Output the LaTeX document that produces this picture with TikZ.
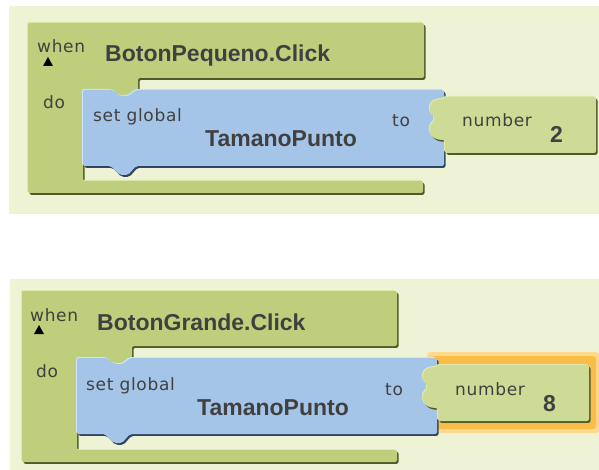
\documentclass[tikz,border=0pt]{standalone}
\usepackage{fontspec}
\setmainfont{DejaVu Sans}
\newfontfamily\labelfont[LetterSpace=4]{DejaVu Sans}
\newfontfamily\titlefont{Liberation Sans}
\usepackage{tikz}

\definecolor{panelbg}{RGB}{238,243,213}
\definecolor{evgreen}{RGB}{190,206,124}
\definecolor{evgreendark}{RGB}{78,90,40}
\definecolor{evgreenlight}{RGB}{222,234,172}
\definecolor{numgreen}{RGB}{205,219,150}
\definecolor{setblue}{RGB}{165,197,232}
\definecolor{setbluedark}{RGB}{48,68,100}
\definecolor{setbluelight}{RGB}{205,228,250}
\definecolor{txtgray}{RGB}{64,64,64}
\definecolor{glowin}{RGB}{250,190,72}
\definecolor{glowout}{RGB}{252,218,140}

\tikzset{
  evblock/.style={fill=evgreen, rounded corners=2,
    preaction={fill=evgreendark, transform canvas={xshift=1.5pt,yshift=-1.8pt}},
    preaction={fill=evgreenlight, transform canvas={xshift=-1pt,yshift=1pt}}},
  numblock/.style={fill=numgreen, rounded corners=2,
    preaction={fill=evgreendark, transform canvas={xshift=1.5pt,yshift=-1.8pt}},
    preaction={fill=evgreenlight, transform canvas={xshift=-1pt,yshift=1pt}}},
  setblock/.style={fill=setblue, rounded corners=2,
    preaction={fill=setbluedark, transform canvas={xshift=1.5pt,yshift=-1.8pt}},
    preaction={fill=setbluelight, transform canvas={xshift=-1pt,yshift=1pt}}},
  smalltxt/.style={anchor=base west, inner sep=0pt, text=txtgray, font=\labelfont\fontsize{17}{17}\selectfont},
  bigtxt/.style={anchor=base west, inner sep=0pt, text=txtgray, font=\titlefont\bfseries\fontsize{23}{23}\selectfont},
}

\begin{document}
\begin{tikzpicture}[x=1pt,y=-1pt]
    \useasboundingbox (0,0) rectangle (599,470);
    \fill[panelbg] (9,6) rectangle (599,214);
    \fill[panelbg] (10,279) rectangle (599,470);

    % BotonPequeno
    \path[evblock] (28,23) -- (424,23) -- (424,78) -- (138,78) -- (138,90) -- (136,90) -- (129,96) -- (120,96) -- (113,90) -- (83,90) -- (83,181) -- (423,181) -- (423,193) -- (28,193) -- cycle;
    \path[setblock] (83,90) -- (113,90) -- (120,96) -- (129,96) -- (136,90) -- (444,90) -- (444,99) .. controls (437,99) and (431,101) .. (430,108) .. controls (430,114) and (434,116) .. (434,119) .. controls (434,122) and (430,124) .. (430,130) .. controls (431,138) and (437,140) .. (444,140) -- (444,166) -- (136,166) -- (128,175) -- (120,175) -- (111,166) -- (83,166) -- cycle;
    \path[numblock] (445,97) -- (596,97) -- (596,153) -- (445,153) -- (445,140) .. controls (437,140) and (431,138) .. (430,130) .. controls (430,124) and (434,122) .. (434,119) .. controls (434,116) and (430,114) .. (430,108) .. controls (431,101) and (437,99) .. (445,99) -- cycle;
    \fill[black] (43,66) -- (48,57) -- (53,66) -- cycle;
    \node[smalltxt] (when1) at (37,53) {when};
    \node[bigtxt] (title1) at (105,62) {BotonPequeno.Click};
    \node[smalltxt] (do1) at (43,109) {do};
    \node[smalltxt] (set1) at (93,122) {set global};
    \node[bigtxt] (var1) at (205,147) {TamanoPunto};
    \node[smalltxt] (to1) at (392,127) {to};
    \node[smalltxt] (num1) at (462,127) {number};
    \node[bigtxt] (val1) at (550,143) {2};

    % BotonGrande
    \begin{scope}[shift={(-6,268)}]
    \fill[glowout, rounded corners=4] (433,84) rectangle (606,165);
    \fill[glowin, rounded corners=3] (437,88) rectangle (602,161);
    \path[evblock] (28,23) -- (403,23) -- (403,78) -- (138,78) -- (138,90) -- (136,90) -- (129,96) -- (120,96) -- (113,90) -- (83,90) -- (83,182) -- (403,182) -- (403,194) -- (28,194) -- cycle;
    \path[setblock] (83,90) -- (113,90) -- (120,96) -- (129,96) -- (136,90) -- (443,90) -- (443,99) .. controls (436,99) and (430,101) .. (429,108) .. controls (429,114) and (433,116) .. (433,119) .. controls (433,122) and (429,124) .. (429,130) .. controls (430,138) and (436,140) .. (443,140) -- (443,166) -- (136,166) -- (128,175) -- (120,175) -- (111,166) -- (83,166) -- cycle;
    \path[numblock] (444,97) -- (595,97) -- (595,153) -- (444,153) -- (444,140) .. controls (436,140) and (430,138) .. (429,130) .. controls (429,124) and (433,122) .. (433,119) .. controls (433,116) and (429,114) .. (429,108) .. controls (430,101) and (436,99) .. (444,99) -- cycle;
    \fill[black] (40,66) -- (45,57) -- (50,66) -- cycle;
    \node[smalltxt] (when2) at (36,53) {when};
    \node[bigtxt] (title2) at (103,62) {BotonGrande.Click};
    \node[smalltxt] (do2) at (42,109) {do};
    \node[smalltxt] (set2) at (92,122) {set global};
    \node[bigtxt] (var2) at (203,147) {TamanoPunto};
    \node[smalltxt] (to2) at (391,127) {to};
    \node[smalltxt] (num2) at (461,127) {number};
    \node[bigtxt] (val2) at (549,143) {8};
    \end{scope}
\end{tikzpicture}
\end{document}
